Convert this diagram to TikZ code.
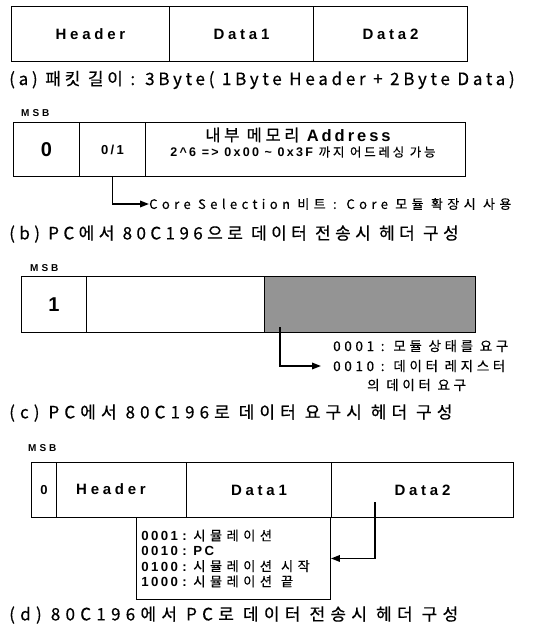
\documentclass[tikz,border=0pt]{standalone}
\usepackage{fontspec}
\setmainfont{Liberation Sans}
\newfontfamily\kr[LetterSpace=22,FakeBold=0.4]{Noto Sans CJK KR}
\newfontfamily\krb[LetterSpace=34,FakeBold=0.4]{Noto Sans CJK KR}
\newfontfamily\krn[LetterSpace=27,FakeBold=0.4]{Noto Sans CJK KR}
\newfontfamily\krs[LetterSpace=34,FakeBold=0.4]{Noto Sans CJK KR}
\newfontfamily\krwa[LetterSpace=22,FakeBold=0.5]{Noto Sans CJK KR}
\newfontfamily\krw[LetterSpace=26,FakeBold=0.5]{Noto Sans CJK KR}
\newfontfamily\krwc[LetterSpace=30,FakeBold=0.5]{Noto Sans CJK KR}
\newfontfamily\krwd[LetterSpace=31,FakeBold=0.5]{Noto Sans CJK KR}
\newfontfamily\lbs[LetterSpace=18]{Liberation Sans}
\newfontfamily\lbh[LetterSpace=25]{Liberation Sans}
\newfontfamily\lbw[LetterSpace=30]{Liberation Sans}
\usetikzlibrary{arrows.meta}
\begin{document}
\begin{tikzpicture}[x=1pt,y=-1pt,
  cell/.style={draw,line width=0.9pt,inner sep=0pt,anchor=north west},
  arr/.style={line width=1.7pt,-{Triangle[length=9pt,width=6.5pt]}},
  captxt/.style={anchor=west,inner sep=0pt,font=\krw\fontsize{17}{18}\selectfont},
  msb/.style={anchor=west,inner sep=0pt,font=\lbw\bfseries\fontsize{10}{11}\selectfont},
  big/.style={font=\lbh\bfseries\fontsize{15}{16}\selectfont},
  note/.style={anchor=west,inner sep=0pt,font=\krn\fontsize{13.5}{14}\selectfont}]
\useasboundingbox (0,0) rectangle (534,632);
% (a)
\node[cell,minimum width=158pt,minimum height=55pt,big] (a1) at (11,6) {Header};
\node[cell,minimum width=144pt,minimum height=55pt,big] (a2) at (169,6) {Data1};
\node[cell,minimum width=154pt,minimum height=55pt,big] (a3) at (313,6) {Data2};
\node[captxt,font=\krwa\fontsize{17}{18}\selectfont] (capa) at (9,80) {(a) 패킷 길이 : 3Byte( 1Byte Header + 2Byte Data)};
% (b)
\node[msb] (msbb) at (21,113) {MSB};
\node[cell,minimum width=66pt,minimum height=54pt,font=\lbs\bfseries\fontsize{20}{21}\selectfont] (b1) at (13,122) {0};
\node[cell,minimum width=66pt,minimum height=54pt,font=\lbs\bfseries\fontsize{13}{14}\selectfont] (b2) at (79,122) {0/1};
\node[cell,minimum width=320pt,minimum height=54pt] (b3) at (145,122) {};
\node[inner sep=0pt] (b3t1) at (298,135)
  {{\kr\fontsize{16.5}{17}\selectfont 내부 메모리 }{\lbs\bfseries\fontsize{16.5}{17}\selectfont Address}};
\node[inner sep=0pt] (b3t2) at (303,152)
  {{\lbs\bfseries\fontsize{12.5}{13}\selectfont 2\^{}6 =\textgreater{} 0x00 \~{} 0x3F }{\kr\fontsize{12.5}{13}\selectfont 까지 어드레싱 가능}};
\node[note,font=\krs\fontsize{13}{14}\selectfont] (cs) at (149,204) {Core Selection 비트 : Core 모듈 확장시 사용};
\draw[arr] (b2.south) |- (cs.west);
\node[captxt] (capb) at (9,234) {(b) PC에서 80C196으로 데이터 전송시 헤더 구성};
% (c)
\node[msb] (msbc) at (30,268) {MSB};
\node[cell,minimum width=65pt,minimum height=56pt,font=\lbs\bfseries\fontsize{20}{21}\selectfont] (c1) at (21,276) {1};
\node[cell,minimum width=178pt,minimum height=56pt] (c2) at (86,276) {};
\node[cell,minimum width=211pt,minimum height=56pt,fill=black!42] (c3) at (264,276) {};
\coordinate (cst) at (280,327);
\node[note] (ct1) at (333,346) {0001 : 모듈 상태를 요구};
\node[note] (ct2) at (333,366) {0010 : 데이터 레지스터};
\node[note] (ct3) at (367,385) {의 데이터 요구};
\draw[arr] (cst) |- ([xshift=-12pt]ct2.west);
\node[captxt,font=\krwc\fontsize{17}{18}\selectfont] (capc) at (9,413) {(c) PC에서 80C196로 데이터 요구시 헤더 구성};
% (d)
\node[msb] (msbd) at (28,448) {MSB};
\node[cell,minimum width=25pt,minimum height=55pt,font=\lbs\bfseries\fontsize{13}{14}\selectfont] (d1) at (31,462) {0};
\node[cell,minimum width=130pt,minimum height=55pt] (d2) at (56,462) {};
\node[big,inner sep=0pt] (d2t) at (111,489) {Header};
\node[cell,minimum width=145pt,minimum height=55pt,big] (d3) at (186,462) {Data1};
\node[cell,minimum width=182pt,minimum height=55pt,big] (d4) at (331,462) {Data2};
\node[cell,minimum width=192pt,minimum height=82pt,align=left,text width=184pt,inner xsep=5pt,
  font=\fontsize{13.2}{15.3}\selectfont] (lb) at (136,517)
  {{\lbs\bfseries 0001 : }{\krb 시뮬레이션}\\
   {\lbs\bfseries 0010 : PC}\\
   {\lbs\bfseries 0100 : }{\krb 시뮬레이션\hspace{0.35em} 시작}\\
   {\lbs\bfseries 1000 : }{\krb 시뮬레이션\hspace{0.35em} 끝}};
\coordinate (dst) at (375,502);
\draw[arr] (dst) |- (lb.east);
\node[captxt,font=\krwd\fontsize{17}{18}\selectfont] (capd) at (9,615) {(d) 80C196에서 PC로 데이터 전송시 헤더 구성};
\end{tikzpicture}
\end{document}
